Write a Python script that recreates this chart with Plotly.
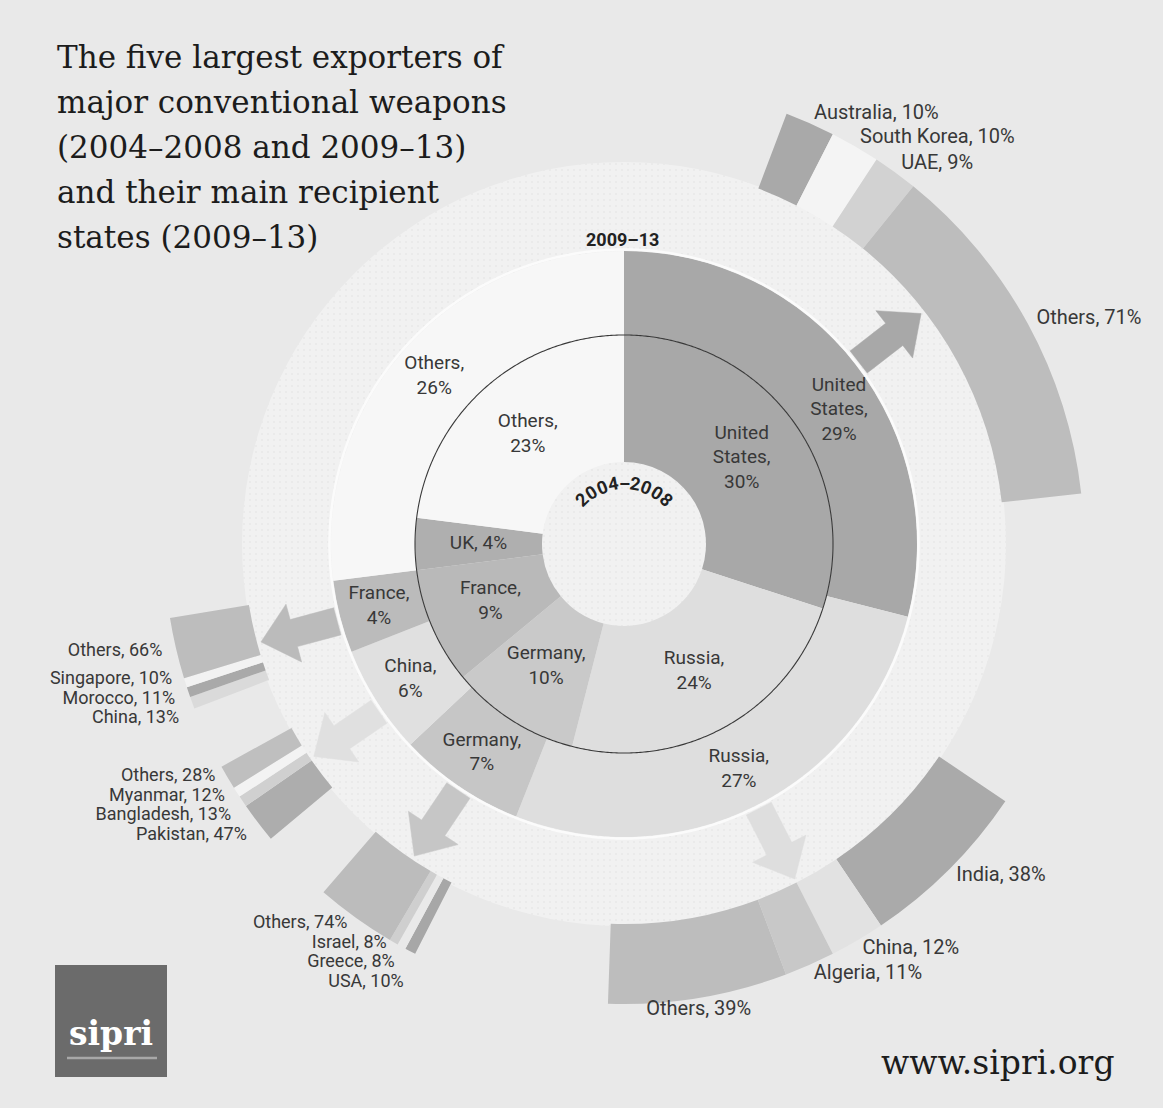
import numpy as np
import plotly.graph_objects as go

# ------------------------------------------------------------------ data
exporters_0408 = ["United States", "Russia", "Germany", "France", "UK", "Others"]
shares_0408 = [30, 24, 10, 9, 4, 23]
exporters_0913 = ["United States", "Russia", "Germany", "China", "France", "Others"]
shares_0913 = [29, 27, 7, 6, 4, 26]

us_recipients = ["Australia", "South Korea", "UAE", "Others"]
us_recipient_shares = [10, 10, 9, 71]
russia_recipients = ["India", "China", "Algeria", "Others"]
russia_recipient_shares = [38, 12, 11, 39]
germany_recipients = ["USA", "Greece", "Israel", "Others"]
germany_recipient_shares = [10, 8, 8, 74]
china_recipients = ["Pakistan", "Bangladesh", "Myanmar", "Others"]
china_recipient_shares = [47, 13, 12, 28]
france_recipients = ["China", "Morocco", "Singapore", "Others"]
france_recipient_shares = [13, 11, 10, 66]

title_lines = ["The five largest exporters of", "major conventional weapons",
               "(2004–2008 and 2009–13)", "and their main recipient",
               "states (2009–13)"]
inner_period = "2004–2008"
outer_period = "2009–13"

# ------------------------------------------------------------------ style / geometry
W, H = 1163, 1108
CX, CY = 624, 544                      # centre of the rings (pixels from top-left)
R_MAX = min(CX, W - CX, CY, H - CY)    # radial axis in pixels
R_HOLE, R_MID, R_OUT = 82, 209, 293
R_DISK = 382
R_REC0, R_REC1 = 380, 460
LABEL_FONT = "Roboto"
LABEL_SIZE = 20
STACK_SIZE = 18
STACK_GAP = 19.5
LABEL_COLOR = "#383838"
PAPER = "#e9e9e9"

colors_0408 = {"United States": "#a8a8a8", "Russia": "#dedede", "Germany": "#c9c9c9",
               "France": "#b9b9b9", "UK": "#afafaf", "Others": "#f7f7f7"}
colors_0913 = {"United States": "#a8a8a8", "Russia": "#dedede", "Germany": "#c6c6c6",
               "China": "#e0e0e0", "France": "#bbbbbb", "Others": "#f7f7f7"}

groups = [
    dict(exporter="United States", names=us_recipients, vals=us_recipient_shares,
         colors=["#a9a9a9", "#f4f4f4", "#d2d2d2", "#bdbdbd"], span=63.0, shift=0.0),
    dict(exporter="Russia", names=russia_recipients, vals=russia_recipient_shares,
         colors=["#aaaaaa", "#e2e2e2", "#c8c8c8", "#bdbdbd"], span=58.0, shift=0.0),
    dict(exporter="Germany", names=germany_recipients, vals=germany_recipient_shares,
         colors=["#a7a7a7", "#e9e9e9", "#cfcfcf", "#bcbcbc"], span=13.8, shift=-0.3),
    dict(exporter="China", names=china_recipients, vals=china_recipient_shares,
         colors=["#adadad", "#d0d0d0", "#f3f3f3", "#bfbfbf"], span=10.9, shift=-2.0),
    dict(exporter="France", names=france_recipients, vals=france_recipient_shares,
         colors=["#dadada", "#a9a9a9", "#f2f2f2", "#bdbdbd"], span=11.7, shift=-0.7),
]
label_nudge = {("outer", "United States"): 6.0}


def ring_angles(shares):
    a0, a1, acc = [], [], 0.0
    for i, s in enumerate(shares):
        a0.append(acc * 3.6)
        acc += s
        a1.append(360.0 if i == len(shares) - 1 else acc * 3.6)
    return np.array(a0), np.array(a1)


def px_to_polar(dx, dy_up):
    return float(np.hypot(dx, dy_up)), float(np.degrees(np.arctan2(dx, dy_up)) % 360)


def polar_to_px(r, th):
    t = np.radians(th)
    return r * np.sin(t), r * np.cos(t)     # dx, dy_up


def label_text(name, v):
    if name == "United States":
        return f"United<br>States,<br>{v}%"
    if name == "UK":
        return f"{name}, {v}%"
    return f"{name},<br>{v}%"


fig = go.Figure()

# light disk behind the rings
fig.add_trace(go.Barpolar(theta=[180], width=[360], base=[0], r=[R_DISK],
                          marker=dict(color="#f1f1f1", line=dict(width=0),
                                      pattern=dict(shape=".", fgcolor="#dedede", bgcolor="#f1f1f1",
                                                   size=6, solidity=0.1)),
                          hoverinfo="skip"))


def add_ring(names, shares, cmap, r0, r1):
    a0, a1 = ring_angles(shares)
    n = len(names)
    fig.add_trace(go.Barpolar(
        theta=(a0 + a1) / 2, width=a1 - a0, base=[r0] * n, r=[r1 - r0] * n,
        marker=dict(color=[cmap[k] for k in names], line=dict(width=0)),
        hoverinfo="skip"))
    return a0, a1


in0, in1 = add_ring(exporters_0408, shares_0408, colors_0408, R_HOLE, R_MID)
out0, out1 = add_ring(exporters_0913, shares_0913, colors_0913, R_MID, R_OUT)

# separator circles
circ = np.linspace(0, 360, 721)
fig.add_trace(go.Scatterpolar(theta=circ, r=[R_OUT + 1.5] * len(circ), mode="lines",
                              line=dict(color="#fbfbfb", width=2.5), hoverinfo="skip"))
fig.add_trace(go.Scatterpolar(theta=circ, r=[R_MID] * len(circ), mode="lines",
                              line=dict(color="#3a3a3a", width=1.1), hoverinfo="skip"))

# arrows + recipient arcs
mid_out = {k: (a + b) / 2 for k, a, b in zip(exporters_0913, out0, out1)}
arrow_geom = dict(r_tail=297, r_tip=376, half_shaft=14, half_head=30, head_len=34)
rec_labels = []
for g in groups:
    th = mid_out[g["exporter"]] + g["shift"]
    ag = arrow_geom
    pts = [(ag["r_tail"], -ag["half_shaft"]), (ag["r_tip"] - ag["head_len"], -ag["half_shaft"]),
           (ag["r_tip"] - ag["head_len"], -ag["half_head"]), (ag["r_tip"], 0),
           (ag["r_tip"] - ag["head_len"], ag["half_head"]), (ag["r_tip"] - ag["head_len"], ag["half_shaft"]),
           (ag["r_tail"], ag["half_shaft"]), (ag["r_tail"], -ag["half_shaft"])]
    t = np.radians(th)
    ux, uy = np.sin(t), np.cos(t)
    vx, vy = np.cos(t), -np.sin(t)
    rr, tt = [], []
    for a, b in pts:
        r_, th_ = px_to_polar(a * ux + b * vx, a * uy + b * vy)
        rr.append(r_)
        tt.append(th_)
    col = colors_0913[g["exporter"]]
    fig.add_trace(go.Scatterpolar(r=rr, theta=tt, mode="lines", fill="toself", fillcolor=col,
                                  line=dict(color=col, width=0.5), hoverinfo="skip"))

    # recipient arc
    vals = np.array(g["vals"], dtype=float)
    frac = vals / vals.sum()
    start = th - g["span"] / 2
    s0 = start + g["span"] * np.concatenate([[0], np.cumsum(frac)[:-1]])
    w = g["span"] * frac
    mids = s0 + w / 2
    n = len(vals)
    fig.add_trace(go.Barpolar(theta=mids, width=w, base=[R_REC0] * n, r=[R_REC1 - R_REC0] * n,
                              marker=dict(color=g["colors"], line=dict(width=0)),
                              hoverinfo="skip"))

    # recipient labels
    items = []
    for name, v, m in zip(g["names"], g["vals"], mids):
        if th >= 195:
            dx, dy = polar_to_px(474, m)
            items.append([dx, -dy, f"{name}, {v}%", "middle left", STACK_SIZE])
        elif m < 165:
            dx, dy = polar_to_px(470, m)
            items.append([dx, -dy, f"{name}, {v}%", "middle right", LABEL_SIZE])
        else:
            dx, dy = polar_to_px(462, m)
            items.append([dx, -dy, f"{name}, {v}%", "bottom center", LABEL_SIZE])
    if th >= 195:   # stacked list on the left: minimum line gap, mean position preserved
        items.sort(key=lambda it: it[1])
        orig = np.array([it[1] for it in items])
        ys = orig.copy()
        for i in range(1, len(ys)):
            ys[i] = max(ys[i], ys[i - 1] + STACK_GAP)
        ys -= (ys.mean() - orig.mean())
        ys[0] = min(max(ys[0], orig[0]), ys[1] - STACK_GAP)
        for it, y in zip(items, ys):
            it[1] = y
    rec_labels.extend(items)

for pos in ["middle right", "bottom center", "middle left"]:
    sel = [it for it in rec_labels if it[3] == pos]
    if not sel:
        continue
    rt = [px_to_polar(it[0], -it[1]) for it in sel]
    fig.add_trace(go.Scatterpolar(r=[a for a, b in rt], theta=[b for a, b in rt], mode="text",
                                  text=[it[2] for it in sel], textposition=pos,
                                  textfont=dict(family=LABEL_FONT, size=sel[0][4], color=LABEL_COLOR),
                                  hoverinfo="skip"))

# ring labels
lab_r, lab_t, lab_s = [], [], []
for names, shares, a0, a1, r, key in [(exporters_0408, shares_0408, in0, in1, (R_HOLE + R_MID) / 2, "inner"),
                                      (exporters_0913, shares_0913, out0, out1, (R_MID + R_OUT) / 2 + 2, "outer")]:
    for k, v, b0, b1 in zip(names, shares, a0, a1):
        lab_r.append(r)
        lab_t.append((b0 + b1) / 2 + label_nudge.get((key, k), 0.0))
        lab_s.append(label_text(k, v))
fig.add_trace(go.Scatterpolar(r=lab_r, theta=lab_t, mode="text", text=lab_s,
                              textposition="middle center",
                              textfont=dict(family=LABEL_FONT, size=LABEL_SIZE - 1, color=LABEL_COLOR),
                              hoverinfo="skip"))

# ------------------------------------------------------------------ annotations
ann = []
for i, line in enumerate(title_lines):
    ann.append(dict(x=55 / W, y=1 - (57 + 45 * i) / H, xref="paper", yref="paper",
                    xanchor="left", yanchor="middle", showarrow=False, text=line,
                    font=dict(family="DejaVu Serif", size=31, color="#1c1c1c")))
ann.append(dict(x=(CX - 2) / W, y=1 - 240 / H, xref="paper", yref="paper", showarrow=False,
                xanchor="center", yanchor="middle",
                text=f"<b>{outer_period}</b>", font=dict(family=LABEL_FONT, size=18, color="#222")))

# curved period label in the hole
adv = [11.8 if ch.isdigit() else 10.3 for ch in inner_period]
r_txt = 61
total = sum(adv)
pos = -total / 2
for ch, a in zip(inner_period, adv):
    ang = np.degrees((pos + a / 2) / r_txt)
    pos += a
    dx, dy = polar_to_px(r_txt, ang)
    ann.append(dict(x=(CX + dx) / W, y=1 - (CY - dy) / H, xref="paper", yref="paper",
                    showarrow=False, text=f"<b>{ch}</b>", textangle=ang,
                    xanchor="center", yanchor="middle",
                    font=dict(family=LABEL_FONT, size=18, color="#222")))

ann.append(dict(x=1117 / W, y=1 - 1062 / H, xref="paper", yref="paper", xanchor="right",
                yanchor="middle", showarrow=False, text="www.sipri.org",
                font=dict(family="DejaVu Serif", size=33, color="#1c1c1c")))
ann.append(dict(x=111 / W, y=1 - 1033 / H, xref="paper", yref="paper", xanchor="center",
                yanchor="middle", showarrow=False, text="<b>sipri</b>",
                font=dict(family="DejaVu Serif", size=33, color="#ffffff")))

shapes = [
    dict(type="rect", xref="paper", yref="paper", x0=55 / W, x1=167 / W,
         y0=1 - 1077 / H, y1=1 - 965 / H, fillcolor="#6b6b6b", line=dict(width=0), layer="below"),
    dict(type="line", xref="paper", yref="paper", x0=67 / W, x1=157 / W,
         y0=1 - 1058 / H, y1=1 - 1058 / H, line=dict(color="#a8a8a8", width=2.5)),
]

fig.update_layout(
    width=W, height=H, margin=dict(l=0, r=0, t=0, b=0),
    paper_bgcolor=PAPER, plot_bgcolor=PAPER, showlegend=False,
    polar=dict(
        domain=dict(x=[(CX - R_MAX) / W, (CX + R_MAX) / W],
                    y=[1 - (CY + R_MAX) / H, 1 - (CY - R_MAX) / H]),
        bgcolor="rgba(0,0,0,0)", barmode="overlay", hole=0,
        radialaxis=dict(visible=False, range=[0, R_MAX]),
        angularaxis=dict(visible=False, rotation=90, direction="clockwise"),
    ),
    annotations=ann, shapes=shapes,
)

fig.write_html("out.html")
